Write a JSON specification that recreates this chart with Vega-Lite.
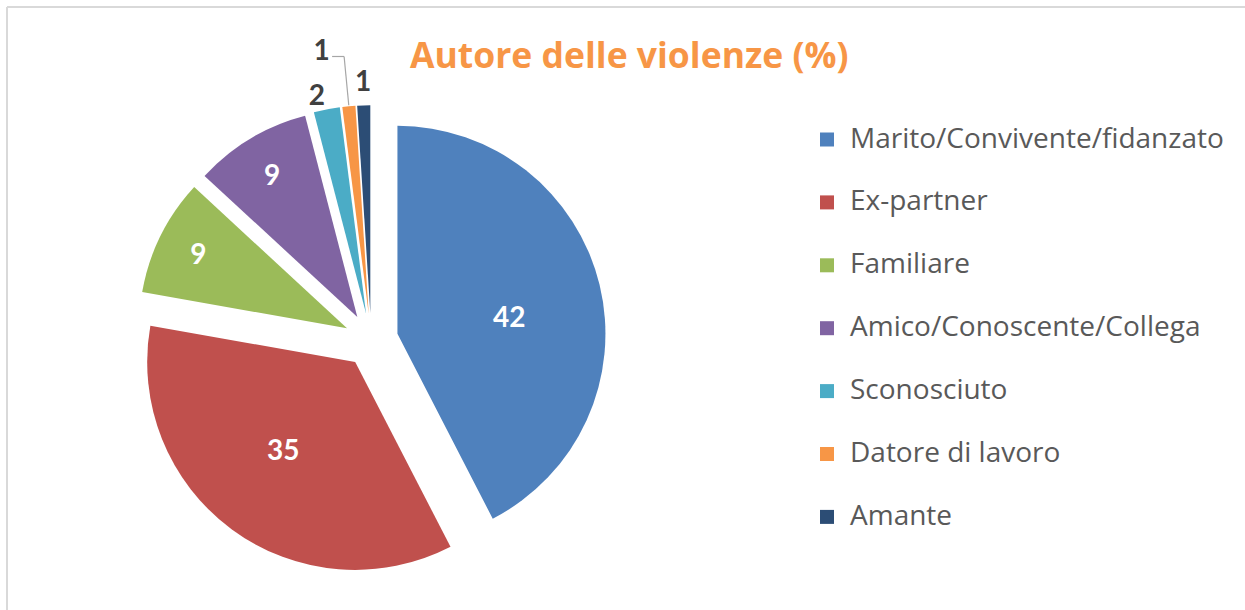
{
  "$schema": "https://vega.github.io/schema/vega-lite/v6.json",
  "width": 1238,
  "height": 603,
  "padding": {"left": 7, "top": 7, "right": 0, "bottom": 0},
  "autosize": {"type": "none"},
  "background": "#ffffff",
  "title": {
    "text": "Autore delle violenze (%)",
    "anchor": "start",
    "frame": "group",
    "offset": 0,
    "dx": 403,
    "dy": 96.2,
    "baseline": "alphabetic",
    "font": "Open Sans",
    "fontSize": 35.5,
    "fontWeight": "bold",
    "color": "#F79646"
  },
  "config": {
    "view": {"stroke": "#d9d9d9", "strokeWidth": 2, "strokeDash": [1238, 1841, 603, 0]}
  },
  "data": {
    "values": [
      {"autore": "Marito/Convivente/fidanzato", "valore": 42},
      {"autore": "Ex-partner", "valore": 35},
      {"autore": "Familiare", "valore": 9},
      {"autore": "Amico/Conoscente/Collega", "valore": 9},
      {"autore": "Sconosciuto", "valore": 2},
      {"autore": "Datore di lavoro", "valore": 1},
      {"autore": "Amante", "valore": 1}
    ]
  },
  "transform": [
    {"joinaggregate": [{"op": "sum", "field": "valore", "as": "totale"}]},
    {"window": [{"op": "sum", "field": "valore", "as": "cum"}], "frame": [null, 0]},
    {"calculate": "(datum.cum - datum.valore) / datum.totale", "as": "t1"},
    {"calculate": "datum.cum / datum.totale", "as": "t2"},
    {"calculate": "(datum.cum - datum.valore / 2) / datum.totale", "as": "tm"},
    {"calculate": "2 * PI * datum.tm", "as": "ang"},
    {"calculate": "27 * sin(datum.ang)", "as": "ox"},
    {"calculate": "27 * cos(datum.ang)", "as": "oy"},
    {"calculate": "datum.ox + 209 * sin(datum.ang)", "as": "lx1"},
    {"calculate": "datum.oy + 209 * cos(datum.ang)", "as": "ly1"},
    {"calculate": "datum.ox + 258 * sin(datum.ang)", "as": "lx2"},
    {"calculate": "datum.oy + 258 * cos(datum.ang)", "as": "ly2"},
    {"calculate": "datum.lx2 - 12", "as": "lx3"}
  ],
  "encoding": {
    "x": {"field": "ox", "type": "quantitative", "scale": {"domain": [-364.2, 873.8], "nice": false, "zero": false}, "axis": null},
    "y": {"field": "oy", "type": "quantitative", "scale": {"domain": [-269.8, 333.2], "nice": false, "zero": false}, "axis": null}
  },
  "layer": [
    {
      "mark": {"type": "arc", "radius": 208},
      "encoding": {
        "theta": {"field": "t1", "type": "quantitative", "scale": {"domain": [0, 1]}, "stack": null},
        "theta2": {"field": "t2"},
        "color": {
          "field": "autore",
          "type": "nominal",
          "scale": {
            "domain": ["Marito/Convivente/fidanzato", "Ex-partner", "Familiare", "Amico/Conoscente/Collega", "Sconosciuto", "Datore di lavoro", "Amante"],
            "range": ["#4F81BD", "#C0504D", "#9BBB59", "#8064A2", "#4BACC6", "#F79646", "#2C4D75"]
          },
          "legend": {
            "orient": "none",
            "legendX": 806,
            "legendY": 118.5,
            "title": null,
            "padding": 0,
            "symbolType": "square",
            "symbolSize": 196,
            "symbolStrokeWidth": 0,
            "labelFont": "Open Sans",
            "labelFontSize": 28,
            "labelColor": "#595959",
            "labelOffset": 9,
            "labelLimit": 500,
            "rowPadding": 34.9
          }
        }
      }
    },
    {
      "transform": [{"filter": "datum.autore == 'Datore di lavoro'"}],
      "mark": {"type": "rule", "color": "#A6A6A6", "strokeWidth": 1.2},
      "encoding": {
        "x": {"field": "lx1", "type": "quantitative", "axis": null},
        "y": {"field": "ly1", "type": "quantitative", "axis": null},
        "x2": {"field": "lx2"},
        "y2": {"field": "ly2"}
      }
    },
    {
      "transform": [{"filter": "datum.autore == 'Datore di lavoro'"}],
      "mark": {"type": "rule", "color": "#A6A6A6", "strokeWidth": 1.2},
      "encoding": {
        "x": {"field": "lx2", "type": "quantitative", "axis": null},
        "y": {"field": "ly2", "type": "quantitative", "axis": null},
        "x2": {"field": "lx3"},
        "y2": {"field": "ly2"}
      }
    },
    {
      "transform": [{"filter": "datum.autore == 'Marito/Convivente/fidanzato'"}],
      "mark": {"type": "text", "radius": 113, "dx": 2, "dy": 12, "font": "Lato", "fontSize": 28, "fontWeight": "bold", "fill": "#ffffff", "align": "center", "baseline": "middle"},
      "encoding": {
        "theta": {"field": "tm", "type": "quantitative", "scale": {"domain": [0, 1]}, "stack": null},
        "text": {"field": "valore", "type": "quantitative"}
      }
    },
    {
      "transform": [{"filter": "datum.autore == 'Ex-partner'"}],
      "mark": {"type": "text", "radius": 113, "dx": -5, "dy": -1, "font": "Lato", "fontSize": 28, "fontWeight": "bold", "fill": "#ffffff", "align": "center", "baseline": "middle"},
      "encoding": {
        "theta": {"field": "tm", "type": "quantitative", "scale": {"domain": [0, 1]}, "stack": null},
        "text": {"field": "valore", "type": "quantitative"}
      }
    },
    {
      "transform": [{"filter": "datum.valore >= 5 && datum.valore < 20"}],
      "mark": {"type": "text", "radius": 166, "dy": 2, "font": "Lato", "fontSize": 28, "fontWeight": "bold", "fill": "#ffffff", "align": "center", "baseline": "middle"},
      "encoding": {
        "theta": {"field": "tm", "type": "quantitative", "scale": {"domain": [0, 1]}, "stack": null},
        "text": {"field": "valore", "type": "quantitative"}
      }
    },
    {
      "transform": [{"filter": "datum.autore == 'Sconosciuto'"}],
      "mark": {"type": "text", "radius": 223, "dx": -7, "dy": 2, "font": "Lato", "fontSize": 28, "fontWeight": "bold", "fill": "#404040", "align": "center", "baseline": "middle"},
      "encoding": {
        "theta": {"field": "tm", "type": "quantitative", "scale": {"domain": [0, 1]}, "stack": null},
        "text": {"field": "valore", "type": "quantitative"}
      }
    },
    {
      "transform": [{"filter": "datum.autore == 'Amante'"}],
      "mark": {"type": "text", "radius": 231, "dy": 1, "font": "Lato", "fontSize": 28, "fontWeight": "bold", "fill": "#404040", "align": "center", "baseline": "middle"},
      "encoding": {
        "theta": {"field": "tm", "type": "quantitative", "scale": {"domain": [0, 1]}, "stack": null},
        "text": {"field": "valore", "type": "quantitative"}
      }
    },
    {
      "transform": [{"filter": "datum.autore == 'Datore di lavoro'"}],
      "mark": {"type": "text", "radius": 262, "dx": -22, "dy": -1, "font": "Lato", "fontSize": 28, "fontWeight": "bold", "fill": "#404040", "align": "center", "baseline": "middle"},
      "encoding": {
        "theta": {"field": "tm", "type": "quantitative", "scale": {"domain": [0, 1]}, "stack": null},
        "text": {"field": "valore", "type": "quantitative"}
      }
    }
  ]
}
